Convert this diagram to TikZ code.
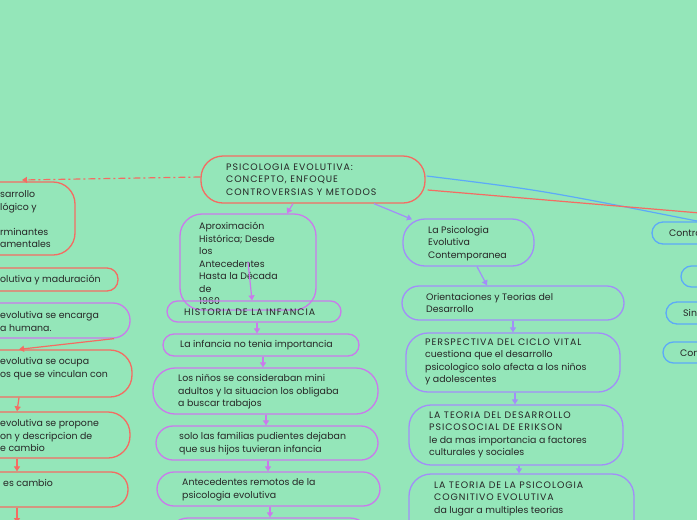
\documentclass[tikz,border=0pt]{standalone}
\usepackage{fontspec}
\setmainfont{Poppins}
\newfontfamily\capsfont[LetterSpace=10]{Poppins}
\usetikzlibrary{arrows.meta,fit,calc}
\definecolor{bg}{RGB}{148,230,185}
\definecolor{cred}{RGB}{244,108,98}
\definecolor{cpur}{RGB}{202,122,236}
\definecolor{clav}{RGB}{162,142,248}
\definecolor{cblue}{RGB}{92,170,248}
\definecolor{ink}{RGB}{38,38,38}
\newcommand{\cp}[1]{{\capsfont #1}}
\begin{document}
\begin{tikzpicture}[x=1pt,y=-1pt,
  box/.style={draw, line width=1.3pt, inner sep=0pt, rectangle},
  rbox/.style={box, draw=cred},
  pbox/.style={box, draw=cpur},
  lbox/.style={box, draw=clav},
  bbox/.style={box, draw=cblue},
  txt/.style={inner sep=0pt, anchor=west, align=left, text=ink, font=\fontsize{9.4}{12.5}\selectfont},
  arr/.style={line width=1.2pt, -{Triangle[length=5pt,width=6pt]}},
]
\useasboundingbox (0,0) rectangle (697,520);
\fill[bg] (0,0) rectangle (697,520);
\clip (0,0) rectangle (697,520);

% ---------- central node
\node[rbox, rounded corners=22pt, fit={(201,156) (425,203)}] (main) {};
\node[txt] (tmain) at (226,179.5) {\cp{PSICOLOGIA EVOLUTIVA:}\\\cp{CONCEPTO, ENFOQUE}\\\cp{CONTROVERSIAS Y METODOS}};

% ---------- left column (cut by the left edge)
\node[rbox, rounded corners=22pt, fit={(-60,182) (75,255)}] (l1) {};
\node[txt] (tl1) at (0,219.5) {sarrollo\\lógico y\\\mbox{}\\rminantes\\amentales};
\node[rbox, rounded corners=11pt, fit={(-60,268) (118,291)}] (l2) {};
\node[txt] (tl2) at (0,280) {olutiva y maduración};
\node[pbox, rounded corners=17pt, fit={(-60,303) (130,338)}] (l3) {};
\node[txt] (tl3) at (0,321.5) {evolutiva se encarga\\a humana.};
\node[rbox, rounded corners=22pt, fit={(-60,350) (132,397)}] (l4) {};
\node[txt] (tl4) at (0,368.5) {evolutiva se ocupa\\os que se vinculan con};
\node[rbox, rounded corners=22pt, fit={(-60,412) (130,458)}] (l5) {};
\node[txt] (tl5) at (0,435.5) {evolutiva se propone\\on y descripcion de\\e cambio};
\node[rbox, rounded corners=17pt, fit={(-60,472) (128,507)}] (l6) {};
\node[txt] (tl6) at (3,483) {es cambio};
\coordinate (l7) at (17,523);
\coordinate (cl1) at (22,180);

% ---------- middle column
\node[pbox, rounded corners=22pt, fit={(180,214) (316,310)}] (aprox) {};
\node[txt] (taprox) at (199,263.5) {Aproximación\\Histórica; Desde\\los\\Antecedentes\\Hasta la Década\\de\\1960};
\node[pbox, rounded corners=10.5pt, fit={(167,301) (341,322)}] (hist) {};
\node[txt] (thist) at (184,312) {\cp{HISTORIA DE LA INFANCIA}};
\node[pbox, rounded corners=11pt, fit={(163,334) (359,356)}] (inf) {};
\node[txt] (tinf) at (180,345) {La infancia no tenia importancia};
\node[pbox, rounded corners=22pt, fit={(153,368) (378,414)}] (ninos) {};
\node[txt] (tninos) at (178,392) {Los niños se consideraban mini\\adultos y la situacion los obligaba\\a buscar trabajos};
\node[pbox, rounded corners=17pt, fit={(156,426) (378,460)}] (solo) {};
\node[txt] (tsolo) at (179,443.5) {solo las familias pudientes dejaban\\que sus hijos tuvieran infancia};
\node[pbox, rounded corners=17pt, fit={(157,472) (380,506)}] (ante) {};
\node[txt] (tante) at (182,490) {Antecedentes remotos de la\\psicologia evolutiva};
\node[pbox, rounded corners=20pt, fit={(168,518) (370,560)}] (nextm) {};

% ---------- right-middle column
\node[lbox, rounded corners=22pt, fit={(403,219) (534,266)}] (psic) {};
\node[txt] (tpsic) at (428,243.5) {La Psicologia\\Evolutiva\\Contemporanea};
\node[lbox, rounded corners=17pt, fit={(402,286) (624,320)}] (orient) {};
\node[txt] (torient) at (426,303) {Orientaciones y Teorias del\\Desarrollo};
\node[lbox, rounded corners=22pt, fit={(406,333) (620,392)}] (persp) {};
\node[txt] (tpersp) at (425,362) {\cp{PERSPECTIVA DEL CICLO VITAL}\\cuestiona que el desarrollo\\psicologico solo afecta a los niños\\y adolescentes};
\node[lbox, rounded corners=22pt, fit={(409,405) (623,465)}] (erik) {};
\node[txt] (terik) at (429,435) {\cp{LA TEORIA DEL DESARROLLO}\\\cp{PSICOSOCIAL DE ERIKSON}\\le da mas importancia a factores\\culturales y sociales};
\node[lbox, rounded corners=22pt, fit={(409,474) (634,545)}] (cogn) {};
\node[txt] (tcogn) at (434,498.5) {\cp{LA TEORIA DE LA PSICOLOGIA}\\\cp{COGNITIVO EVOLUTIVA}\\da lugar a multiples teorias};

% ---------- far right (cut by the right edge)
\node[bbox, rounded corners=11pt, fit={(652,222) (780,244)}] (r1) {};
\node[txt] (tr1) at (669,233) {Contro};
\node[bbox, rounded corners=10.5pt, fit={(681,266) (780,287)}] (r2) {};
\node[bbox, rounded corners=11pt, fit={(666,302) (780,324)}] (r3) {};
\node[txt] (tr3) at (683,313) {Sin};
\node[bbox, rounded corners=10.5pt, fit={(663,342) (780,363)}] (r4) {};
\node[txt] (tr4) at (680,353) {Con};
\coordinate (cblueend) at (697,221);
\coordinate (credend) at (700,213);

% ---------- connectors
\draw[arr, cred, dash pattern=on 7pt off 3pt on 2pt off 3pt] ([yshift=2.5pt]main.west) -- (cl1);
\draw[line width=1.2pt, cblue] ([yshift=3.5pt,xshift=1pt]main.east) .. controls (540,190) .. (cblueend);
\draw[line width=1.2pt, cred] ([yshift=-10.5pt,xshift=2pt]main.east) -- (credend);

\draw[arr, cpur] ([xshift=-20pt]main.south) -- ([xshift=39pt]aprox.north);
\draw[arr, cpur] (aprox.center) -- ([xshift=-2pt]hist.north);
\draw[arr, cpur] ([xshift=3pt]hist.south) -- ([xshift=-4pt]inf.north);
\draw[arr, cpur] ([xshift=2pt]inf.south) -- ([xshift=-2.5pt]ninos.north);
\draw[arr, cpur] ([xshift=0.5pt]ninos.south) -- ([xshift=-1pt]solo.north);
\draw[arr, cpur] ([xshift=1pt]solo.south) -- ([xshift=-0.5pt]ante.north);
\draw[arr, cpur] ([xshift=1.5pt]ante.south) -- ([xshift=1pt]nextm.north);

\draw[arr, clav] ([xshift=61pt]main.south) -- ([xshift=-56.5pt,yshift=-1pt]psic.north);
\draw[arr, clav] ([xshift=8.5pt]psic.south) -- ([xshift=-26pt]orient.north);
\draw[arr, clav] (orient.south) -- (persp.north);
\draw[arr, clav] ([xshift=2pt]persp.south) -- ([xshift=-1pt]erik.north);
\draw[arr, clav] ([xshift=3pt]erik.south) -- ([xshift=-2.5pt]cogn.north);

\draw[arr, cred] ([xshift=79pt]l3.south) -- ([xshift=-17pt]l4.north);
\draw[arr, cred] ([xshift=-17pt]l4.south) -- ([xshift=-18pt]l5.north);
\draw[arr, cred] ([xshift=-18pt]l5.south) -- ([xshift=-17pt]l6.north);
\draw[arr, cred] ([xshift=-17pt]l6.south) -- (l7);
\end{tikzpicture}
\end{document}
